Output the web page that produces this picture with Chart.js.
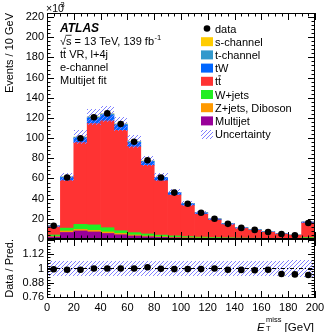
<!DOCTYPE html>
<html>
<head>
<meta charset="utf-8">
<script src="https://cdn.jsdelivr.net/npm/chart.js@4.4.0/dist/chart.umd.min.js"></script>
<style>
  html, body { margin: 0; padding: 0; background: #fff; }
  #wrap { position: relative; width: 332px; height: 332px; }
  #wrap canvas { position: absolute; left: 0; top: 0; }
</style>
</head>
<body>
<div id="wrap">
  <canvas id="mainCanvas" width="332" height="332"></canvas>
  <canvas id="ratioCanvas" width="332" height="332"></canvas>
</div>
<script>
const FONT = "'Liberation Sans', Arial, Helvetica, sans-serif";

// E_T^miss bins (GeV), 10 GeV wide, last one holds the overflow
const binCenters = [5, 15, 25, 35, 45, 55, 65, 75, 85, 95, 105, 115, 125, 135, 145, 155, 165, 175, 185, 195];

// Events / 10 GeV, in units of 10^3
const dataCounts = [13.2, 61, 99.8, 120.6, 124.5, 114, 96.4, 78, 61, 46, 35, 26, 20, 15, 11, 9, 7, 5, 3.7, 15.8];
const multijet   = [2.0, 6.5, 8.0, 7.0, 5.5, 4.2, 3.0, 2.2, 1.6, 1.2, 0.9, 0.7, 0.5, 0.4, 0.3, 0.25, 0.2, 0.15, 0.1, 0.4];
const zjets      = [0.5, 1.5, 1.5, 1.5, 1.5, 1.3, 1.0, 0.8, 0.6, 0.5, 0.4, 0.3, 0.25, 0.2, 0.15, 0.12, 0.1, 0.08, 0.06, 0.2];
const wjets      = [1.5, 2.8, 5.0, 5.5, 4.2, 2.7, 2.3, 2.0, 1.7, 1.4, 1.1, 0.9, 0.7, 0.6, 0.5, 0.4, 0.35, 0.3, 0.25, 0.8];
const ttbar      = [8.1, 47.1, 81.0, 100.4, 106.0, 99.6, 85.0, 68.1, 53.9, 40.5, 30.8, 22.7, 17.4, 13.1, 9.55, 7.87, 6.07, 4.37, 3.28, 14.5];
const tW         = [0.7, 2.8, 4.3, 5.3, 5.5, 5.0, 4.2, 3.4, 2.7, 2.1, 1.6, 1.2, 0.9, 0.7, 0.5, 0.4, 0.32, 0.25, 0.18, 0.8];
const tchan      = [0.3, 0.8, 1.1, 1.2, 1.2, 1.1, 0.9, 0.7, 0.6, 0.45, 0.35, 0.25, 0.2, 0.15, 0.11, 0.09, 0.07, 0.05, 0.04, 0.15];
const schan      = [0.02, 0.05, 0.08, 0.09, 0.09, 0.08, 0.07, 0.05, 0.04, 0.03, 0.03, 0.02, 0.02, 0.01, 0.01, 0.01, 0.01, 0.01, 0.01, 0.02];

// Data / Pred. and relative size of the uncertainty band
const ratioValues = [0.994, 0.99, 0.99, 1.0, 1.0, 1.0, 1.0, 1.01, 0.998, 0.995, 0.995, 0.995, 1.0, 0.99, 0.988, 0.985, 0.99, 0.953, 0.95, 0.945];
const relUnc      = [0.065, 0.065, 0.065, 0.065, 0.065, 0.065, 0.065, 0.065, 0.065, 0.065, 0.065, 0.065, 0.065, 0.065, 0.065, 0.065, 0.065, 0.066, 0.068, 0.07];

const xTickLabels = [0, 20, 40, 60, 80, 100, 120, 140, 160, 180, 200];
const yTickLabels = [0, 20, 40, 60, 80, 100, 120, 140, 160, 180, 200, 220];
const ratioTickLabels = [0.76, 0.88, 1, 1.12];

// stack from the bottom up
const stackNames  = ['Multijet', 'Z+jets, Diboson', 'W+jets', 'tt\u0304', 'tW', 't-channel', 's-channel'];
const stackValues = [multijet, zjets, wjets, ttbar, tW, tchan, schan];
const stackColors = ['#990099', '#ff9900', '#22ee22', '#ff3333', '#0066ff', '#3399cc', '#ffcc00'];
const HATCH_COLOR = '#8080ff';

const mcTotal = binCenters.map((_, i) => stackValues.reduce((s, arr) => s + arr[i], 0));

// "///" hatch as single pixels on the grid x + y = 4k, clipped to a box
function hatchRect(ctx, x0, y0, x1, y1) {
    ctx.save();
    ctx.fillStyle = HATCH_COLOR;
    const xa = Math.round(x0), xb = Math.round(x1);
    const ya = Math.round(y0), yb = Math.round(y1);
    for (let y = ya; y < yb; y++) {
        for (let x = xa; x < xb; x++) {
            if ((x + y) % 4 === 0) ctx.fillRect(x, y, 1, 1);
        }
    }
    ctx.restore();
}

// hatch the bars of the dataset flagged with hatched: true
const hatchBars = {
    id: 'hatchBars',
    afterDatasetDraw(chart, args) {
        const ds = chart.data.datasets[args.index];
        if (!ds.hatched) return;
        const a = chart.chartArea;
        args.meta.data.forEach(bar => {
            const p = bar.getProps(['x', 'y', 'base', 'width'], true);
            const top = Math.max(Math.min(p.y, p.base), a.top);
            const bottom = Math.min(Math.max(p.y, p.base), a.bottom);
            hatchRect(chart.ctx, p.x - p.width / 2, top, p.x + p.width / 2, bottom);
        });
    }
};

// ticks pointing inwards on all four sides, like ROOT
function drawFrame(chart, xScale, yScale, xStep, yMajor, yStep) {
    const { ctx, chartArea: a } = chart;
    ctx.save();
    ctx.strokeStyle = '#000';
    ctx.lineWidth = 1;
    ctx.strokeRect(a.left + 0.5, a.top + 0.5, a.right - a.left - 1, a.bottom - a.top - 1);
    ctx.beginPath();
    for (let v = xScale.min; v <= xScale.max + 1e-6; v += xStep) {
        const x = Math.round(xScale.getPixelForValue(v)) + 0.5;
        const len = Math.abs(v % 20) < 1e-6 ? 7 : 3.5;
        ctx.moveTo(x, a.bottom); ctx.lineTo(x, a.bottom - len);
        ctx.moveTo(x, a.top); ctx.lineTo(x, a.top + len);
    }
    const step = yMajor[1] - yMajor[0];
    const yStart = yMajor[0] - Math.floor((yMajor[0] - yScale.min) / yStep + 1e-6) * yStep;
    for (let v = yStart; v <= yScale.max + 1e-6; v += yStep) {
        const y = Math.round(yScale.getPixelForValue(v)) + 0.5;
        const k = (v - yMajor[0]) / step;
        const len = Math.abs(k - Math.round(k)) < 0.01 ? 7 : 3.5;
        ctx.moveTo(a.left, y); ctx.lineTo(a.left + len, y);
        ctx.moveTo(a.right, y); ctx.lineTo(a.right - len, y);
    }
    ctx.stroke();
    ctx.restore();
}

function drawTtbar(ctx, x, y, size) {
    ctx.font = size + 'px ' + FONT;
    const w1 = ctx.measureText('t').width;
    ctx.fillText('tt', x, y);
    ctx.beginPath();
    ctx.moveTo(x + w1 + 0.3, y - size * 0.86);
    ctx.lineTo(x + 2 * w1 - 0.2, y - size * 0.86);
    ctx.lineWidth = 0.9;
    ctx.stroke();
    return x + 2 * w1;
}

const mainDecor = {
    id: 'mainDecor',
    afterDraw(chart) {
        const ctx = chart.ctx;
        drawFrame(chart, chart.scales.x, chart.scales.y, 5, yTickLabels, 4);
        ctx.save();
        ctx.fillStyle = '#000';
        ctx.strokeStyle = '#000';
        ctx.textBaseline = 'alphabetic';

        // x10^3
        ctx.font = '10.5px ' + FONT;
        ctx.fillText('\u00d710', 46, 11.5);
        ctx.font = '7.5px ' + FONT;
        ctx.fillText('3', 60.5, 7);

        // ATLAS label block
        const lx = 60;
        ctx.font = 'italic bold 12px ' + FONT;
        ctx.fillText('ATLAS', lx, 31.5);
        ctx.font = '11px ' + FONT;
        const wRoot = ctx.measureText('\u221a').width;
        const wS = ctx.measureText('s').width;
        ctx.fillText('\u221as = 13 TeV, 139 fb', lx, 44.5);
        ctx.beginPath();
        ctx.lineWidth = 0.8;
        ctx.moveTo(lx + wRoot - 0.5, 35.3); ctx.lineTo(lx + wRoot + wS, 35.3);
        ctx.stroke();
        const wLine = ctx.measureText('\u221as = 13 TeV, 139 fb').width;
        ctx.font = '7.5px ' + FONT;
        ctx.fillText('-1', lx + wLine + 0.5, 39.5);
        let xe = drawTtbar(ctx, lx, 57.7, 11);
        ctx.font = '11px ' + FONT;
        ctx.fillText(' VR, l+4j', xe, 57.7);
        ctx.fillText('e-channel', lx, 70.9);
        ctx.fillText('Multijet fit', lx, 84.1);

        // legend
        const rowY = i => 28.5 + 13.2 * i;
        ctx.beginPath();
        ctx.arc(207, rowY(0), 3.3, 0, 2 * Math.PI);
        ctx.fill();
        ctx.font = '11px ' + FONT;
        ctx.fillText('data', 215, rowY(0) + 4);
        const order = [6, 5, 4, 3, 2, 1, 0];
        order.forEach((k, j) => {
            const y = rowY(j + 1);
            ctx.fillStyle = stackColors[k];
            ctx.fillRect(201, y - 4.5, 12, 9);
            ctx.fillStyle = '#000';
            if (k === 3) {
                drawTtbar(ctx, 215, y + 4, 11);
            } else {
                ctx.font = '11px ' + FONT;
                ctx.fillText(stackNames[k], 215, y + 4);
            }
        });
        const yu = rowY(8);
        hatchRect(ctx, 201, Math.round(yu - 4.5), 213, Math.round(yu - 4.5) + 9);
        ctx.fillStyle = '#000';
        ctx.font = '11px ' + FONT;
        ctx.fillText('Uncertainty', 215, yu + 4);
        ctx.restore();
    }
};

const ratioDecor = {
    id: 'ratioDecor',
    afterDraw(chart) {
        const ctx = chart.ctx;
        drawFrame(chart, chart.scales.x, chart.scales.y, 5, ratioTickLabels, 0.024);
        ctx.save();
        ctx.fillStyle = '#000';
        ctx.textBaseline = 'alphabetic';
        ctx.font = '11.5px ' + FONT;
        ctx.textAlign = 'right';
        ctx.fillText('[GeV]', 314, 330.5);
        ctx.textAlign = 'left';
        ctx.font = 'italic 11.5px ' + FONT;
        ctx.fillText('E', 257, 330.5);
        ctx.font = '7.5px ' + FONT;
        ctx.fillText('miss', 266, 321.5);
        ctx.fillText('T', 266, 331);
        ctx.restore();
    }
};

const tickFont = { size: 11, family: FONT };

// upper panel
const mainDatasets = stackValues.map((vals, k) => ({
    type: 'bar',
    label: stackNames[k],
    data: binCenters.map((x, i) => ({ x: x, y: vals[i] })),
    backgroundColor: stackColors[k],
    borderWidth: 0,
    stack: 'mc',
    yAxisID: 'y',
    barPercentage: 1,
    categoryPercentage: 1,
    order: 2
}));
mainDatasets.push({
    type: 'bar',
    label: 'Uncertainty',
    hatched: true,
    data: binCenters.map((x, i) => ({ x: x, y: [mcTotal[i] * (1 - relUnc[i]), mcTotal[i] * (1 + relUnc[i])] })),
    backgroundColor: 'rgba(0, 0, 0, 0)',
    borderWidth: 0,
    grouped: false,
    yAxisID: 'yb',
    barPercentage: 1,
    categoryPercentage: 1,
    order: 1
});
mainDatasets.push({
    type: 'scatter',
    label: 'data',
    data: binCenters.map((x, i) => ({ x: x, y: dataCounts[i] })),
    backgroundColor: '#000',
    borderColor: '#000',
    pointRadius: 3.3,
    pointBorderWidth: 0,
    showLine: false,
    yAxisID: 'yb',
    order: 0
});

new Chart(document.getElementById('mainCanvas'), {
    type: 'bar',
    data: { datasets: mainDatasets },
    options: {
        responsive: false,
        devicePixelRatio: 1,
        animation: false,
        layout: { padding: { top: 13, right: 17, bottom: 93, left: 0 } },
        plugins: { legend: { display: false }, tooltip: { enabled: false } },
        scales: {
            x: { type: 'linear', min: 0, max: 200, display: false, offset: false },
            y: {
                type: 'linear', min: 0, max: 224, stacked: true, position: 'left',
                grid: { display: false, drawTicks: false },
                border: { display: false },
                afterBuildTicks: s => { s.ticks = yTickLabels.map(v => ({ value: v })); },
                afterFit: s => { s.width = 47; },
                ticks: { font: tickFont, color: '#000', padding: 3 },
                title: { display: true, text: 'Events / 10 GeV', align: 'end', color: '#000', font: tickFont, padding: { top: 3, bottom: 0 } }
            },
            yb: { type: 'linear', min: 0, max: 224, display: false }
        }
    },
    plugins: [hatchBars, mainDecor]
});

// ratio panel
new Chart(document.getElementById('ratioCanvas'), {
    type: 'scatter',
    data: {
        datasets: [
            {
                type: 'scatter',
                label: 'Data / Pred.',
                data: binCenters.map((x, i) => ({ x: x, y: ratioValues[i] })),
                backgroundColor: '#000',
                pointRadius: 3.3,
                pointBorderWidth: 0,
                order: 0
            },
            {
                type: 'line',
                label: 'unity',
                data: [{ x: 0, y: 1 }, { x: 200, y: 1 }],
                borderColor: '#000',
                borderWidth: 1,
                borderDash: [4, 2, 1, 2],
                pointRadius: 0,
                order: 1
            },
            {
                type: 'bar',
                label: 'Uncertainty',
                hatched: true,
                data: binCenters.map((x, i) => ({ x: x, y: [1 - relUnc[i], 1 + relUnc[i]] })),
                backgroundColor: 'rgba(0, 0, 0, 0)',
                borderWidth: 0,
                barPercentage: 1,
                categoryPercentage: 1,
                order: 2
            }
        ]
    },
    options: {
        responsive: false,
        devicePixelRatio: 1,
        animation: false,
        layout: { padding: { top: 239, right: 17, bottom: 0, left: 0 } },
        plugins: { legend: { display: false }, tooltip: { enabled: false } },
        scales: {
            x: {
                type: 'linear', min: 0, max: 200, offset: false,
                grid: { display: false, drawTicks: false, offset: false },
                border: { display: false },
                afterBuildTicks: s => { s.ticks = xTickLabels.map(v => ({ value: v })); },
                afterFit: s => { s.height = 34; },
                ticks: { font: tickFont, color: '#000', padding: 3, autoSkip: false, maxRotation: 0 }
            },
            y: {
                type: 'linear', min: 0.75, max: 1.25,
                grid: { display: false, drawTicks: false },
                border: { display: false },
                afterBuildTicks: s => { s.ticks = ratioTickLabels.map(v => ({ value: v })); },
                afterFit: s => { s.width = 47; },
                ticks: { font: tickFont, color: '#000', padding: 3, callback: v => String(Number(v.toFixed(2))) },
                title: { display: true, text: 'Data / Pred.', align: 'end', color: '#000', font: tickFont, padding: { top: 3, bottom: 0 } }
            }
        }
    },
    plugins: [hatchBars, ratioDecor]
});
</script>
</body>
</html>
